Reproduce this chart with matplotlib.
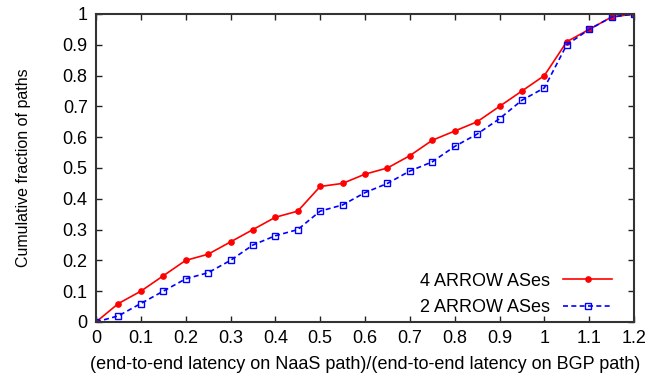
import matplotlib
matplotlib.use("Agg")
import matplotlib.pyplot as plt
import numpy as np

x = [0, 0.05, 0.1, 0.15, 0.2, 0.25, 0.3, 0.35, 0.4, 0.45, 0.5, 0.55, 0.6,
     0.65, 0.7, 0.75, 0.8, 0.85, 0.9, 0.95, 1.0, 1.05, 1.1, 1.15, 1.2]
red = [0, 0.06, 0.10, 0.15, 0.20, 0.22, 0.26, 0.30, 0.34, 0.36, 0.44, 0.45, 0.48,
       0.50, 0.54, 0.59, 0.62, 0.65, 0.70, 0.75, 0.80, 0.91, 0.95, 0.99, 1.0]
blue = [0, 0.02, 0.06, 0.10, 0.14, 0.16, 0.20, 0.25, 0.28, 0.30, 0.36, 0.38, 0.42,
        0.45, 0.49, 0.52, 0.57, 0.61, 0.66, 0.72, 0.76, 0.90, 0.95, 0.99, 1.0]
xticks = [0, 0.1, 0.2, 0.3, 0.4, 0.5, 0.6, 0.7, 0.8, 0.9, 1, 1.1, 1.2]
xticklabels = ["0", "0.1", "0.2", "0.3", "0.4", "0.5", "0.6", "0.7", "0.8", "0.9", "1", "1.1", "1.2"]
yticks = [0, 0.1, 0.2, 0.3, 0.4, 0.5, 0.6, 0.7, 0.8, 0.9, 1]
yticklabels = ["0", "0.1", "0.2", "0.3", "0.4", "0.5", "0.6", "0.7", "0.8", "0.9", "1"]

plt.rcParams['font.family'] = ['Liberation Sans', 'DejaVu Sans']

fig = plt.figure(figsize=(6.62, 3.75), dpi=100)
ax = fig.add_axes([96/662, 53/375, (634-96)/662, (322-14)/375])

ax.plot(x, red, color='#ff0000', lw=1.2, marker='o', ms=3.8, label='4 ARROW ASes')
ax.plot(x, blue, color='#0000ff', lw=1.2, ls=(0, (3, 2)), marker='s', ms=4.8,
        mfc='none', mew=1.0, label='2 ARROW ASes')

ax.set_xlim(0, 1.2)
ax.set_ylim(0, 1)
ax.set_xticks(xticks)
ax.set_xticklabels(xticklabels)
ax.set_yticks(yticks)
ax.set_yticklabels(yticklabels)
ax.tick_params(direction='in', top=True, right=True, length=4, width=1,
               labelsize=13, pad=6, colors='#222222', labelcolor='black')
for s in ax.spines.values():
    s.set_linewidth(1.5)
    s.set_color('#333333')

ax.set_xlabel('(end-to-end latency on NaaS path)/(end-to-end latency on BGP path)', fontsize=13, labelpad=6)
ax.set_ylabel('Cumulative fraction of paths', fontsize=11.5, labelpad=23)

leg = ax.legend(loc='lower right', frameon=False, markerfirst=False, fontsize=13,
                handlelength=2.7, handletextpad=0.72, borderaxespad=0, borderpad=0,
                labelspacing=0.55, bbox_to_anchor=((612-96)/538, 0.018))

fig.savefig('out.png', dpi=100)
